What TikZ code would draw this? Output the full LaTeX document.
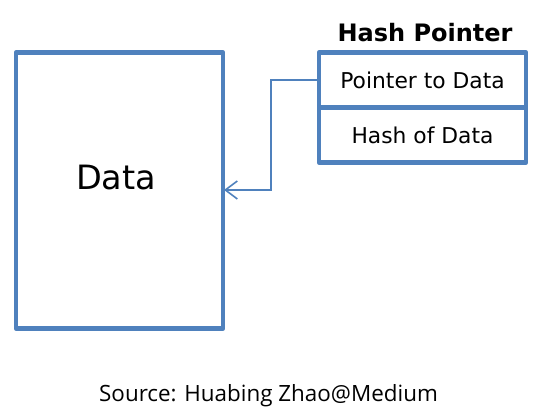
\documentclass[tikz,border=0pt]{standalone}
\usepackage{fontspec}
\setmainfont{DejaVu Sans}
\newfontfamily\srcfont{Open Sans}
\usetikzlibrary{arrows.meta}
\definecolor{boxblue}{HTML}{4F81BD}
\begin{document}
\begin{tikzpicture}[x=1pt,y=-1pt,
  boxline/.style={draw=boxblue,line width=4.5pt,line join=round},
  ptr/.style={draw=boxblue,line width=1.6pt,-{Straight Barb[length=12pt,width=18pt,line width=1.6pt]}}]
\useasboundingbox (0,0) rectangle (549,419);
\node[boxline,minimum width=207pt,minimum height=276pt,inner sep=0pt,outer sep=0pt,anchor=north west] (data) at (16,52.5) {};
\node[font=\fontsize{33.5}{36}\selectfont] (datatxt) at (116,178) {Data};
\node[boxline,minimum width=207pt,minimum height=55pt,inner sep=0pt,outer sep=0pt,anchor=north west] (ptrbox) at (319,52.5) {};
\node[boxline,minimum width=207pt,minimum height=55pt,inner sep=0pt,outer sep=0pt,anchor=north west] (hashbox) at (319,107.5) {};
\node[font=\fontsize{21.8}{24}\selectfont] (ptrtxt) at (422.5,80) {Pointer to Data};
\node[font=\fontsize{21.8}{24}\selectfont] (hashtxt) at (422.5,135) {Hash of Data};
\node[font=\bfseries\fontsize{24}{26}\selectfont] (title) at (425,33) {Hash Pointer};
\node[font=\srcfont\fontsize{22.4}{26}\selectfont] (src) at (268.5,396) {Source: Huabing Zhao@Medium};
\coordinate (bendx) at (271,0);
\coordinate (tip) at (224,190);
\draw[ptr] (ptrbox.west) -- (ptrbox.west -| bendx) |- (tip);
\end{tikzpicture}
\end{document}
